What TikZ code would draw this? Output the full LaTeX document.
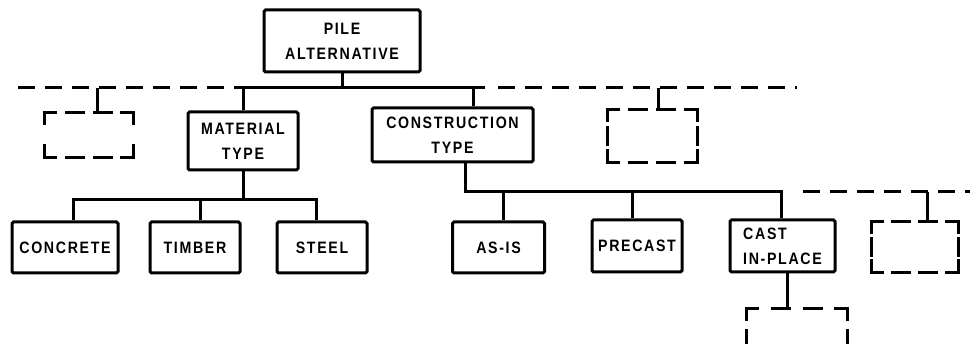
\documentclass[tikz,border=0pt]{standalone}
\usepackage{fontspec}
\setmainfont{Liberation Sans}[LetterSpace=10,FakeStretch=0.86]
\begin{document}
\begin{tikzpicture}[x=1pt,y=-1pt,
  box/.style={draw, line width=3pt, rounded corners=1.5pt, inner sep=0pt, align=center,
    font=\fontsize{16.5}{25}\selectfont\bfseries},
  ph/.style={draw=none, inner sep=0pt},
  ln/.style={line width=3pt},
  dln/.style={line width=3pt, dash pattern=on 17pt off 10pt},
  dside/.code={%
    \pgfmathsetmacro\nn{max(0,round((#1-2*11-12)/(17+12)))}%
    \pgfmathsetmacro\gg{(#1-22-\nn*17)/(\nn+1)}%
    \tikzset{line width=3pt, line cap=rect, dash pattern=on 17pt off \gg pt, dash phase=6pt}},
]
\newcommand\phbox[4]{%
  \node[ph, minimum width=#3pt, minimum height=#4pt] (#1) at #2 {};
  \draw[dside=#3] (#1.north west) -- (#1.north east);
  \draw[dside=#3] (#1.south west) -- (#1.south east);
  \draw[dside=#4] (#1.north west) -- (#1.south west);
  \draw[dside=#4] (#1.north east) -- (#1.south east);
}
\useasboundingbox (0,0) rectangle (970,344);
\clip (0,0) rectangle (970,344);

% boxes
\node[box, minimum width=156pt, minimum height=62pt] (top) at (342,41) {PILE\\ALTERNATIVE};
\node[box, minimum width=110pt, minimum height=58pt] (mat) at (243,141) {MATERIAL\\TYPE};
\node[box, minimum width=161pt, minimum height=54pt] (con) at (452.5,135) {CONSTRUCTION\\TYPE};
\node[box, minimum width=106pt, minimum height=51pt] (concrete) at (65,247.5) {CONCRETE};
\node[box, minimum width=90pt, minimum height=51pt] (timber) at (195,247.5) {TIMBER};
\node[box, minimum width=90pt, minimum height=51pt] (steel) at (322,247.5) {STEEL};
\node[box, minimum width=92pt, minimum height=51pt] (asis) at (498.5,247.5) {AS-IS};
\node[box, minimum width=90pt, minimum height=52pt] (precast) at (637,246) {PRECAST};
\node[box, align=left, minimum width=105pt, minimum height=52pt] (cip) at (782.5,246) {CAST\\IN-PLACE};

% dashed placeholder boxes
\phbox{dl}{(89,135)}{88}{44}
\phbox{dr}{(652.5,136)}{89}{52}
\phbox{dr2}{(915,247)}{86}{50}
\phbox{db}{(797,339)}{100}{60}

% top level bus
\coordinate (busL) at (243,88);
\coordinate (busR) at (485,88);
\coordinate (cs) at (473,88);
\coordinate (dL0) at (18,88);
\coordinate (dR0) at (498,88);
\coordinate (dR1) at (797,88);
\coordinate (jl) at (97,88);
\coordinate (jr) at (658,88);
\draw[ln] (top.south) -- (top.south |- busL);
\draw[ln] (busR) -- (busL) -- (mat.north);
\draw[ln] (cs) -- (cs |- con.north);
\draw[dln] (dL0) -- (busL);
\draw[dln] (dR0) -- (dR1);
\draw[ln] (jl) -- (jl |- dl.north);
\draw[ln] (jr) -- (jr |- dr.north);

% material bus
\coordinate (mb1) at (73,200);
\coordinate (mb2) at (200,200);
\coordinate (mb3) at (316,200);
\draw[ln] (mat.south) -- (mat.south |- mb1);
\draw[ln] (mb1 |- concrete.north) -- (mb1) -- (mb3) -- (mb3 |- steel.north);
\draw[ln] (mb2) -- (mb2 |- timber.north);

% construction bus
\coordinate (cb0) at (465,192);
\coordinate (cb1) at (503,192);
\coordinate (cb2) at (632,192);
\coordinate (cb3) at (781,192);
\coordinate (cb4) at (803,192);
\coordinate (cb5) at (927,192);
\coordinate (cbe) at (975,192);
\draw[ln] (cb0 |- con.south) -- (cb0) -- (cb3) -- (cb3 |- cip.north);
\draw[ln] (cb1) -- (cb1 |- asis.north);
\draw[ln] (cb2) -- (cb2 |- precast.north);
\draw[dln] (cb4) -- (cbe);
\draw[ln] (cb5) -- (cb5 |- dr2.north);

% cast in place down
\coordinate (cs2) at (787,280);
\draw[ln] (cs2 |- cip.south) -- (cs2 |- db.north);
\end{tikzpicture}
\end{document}
